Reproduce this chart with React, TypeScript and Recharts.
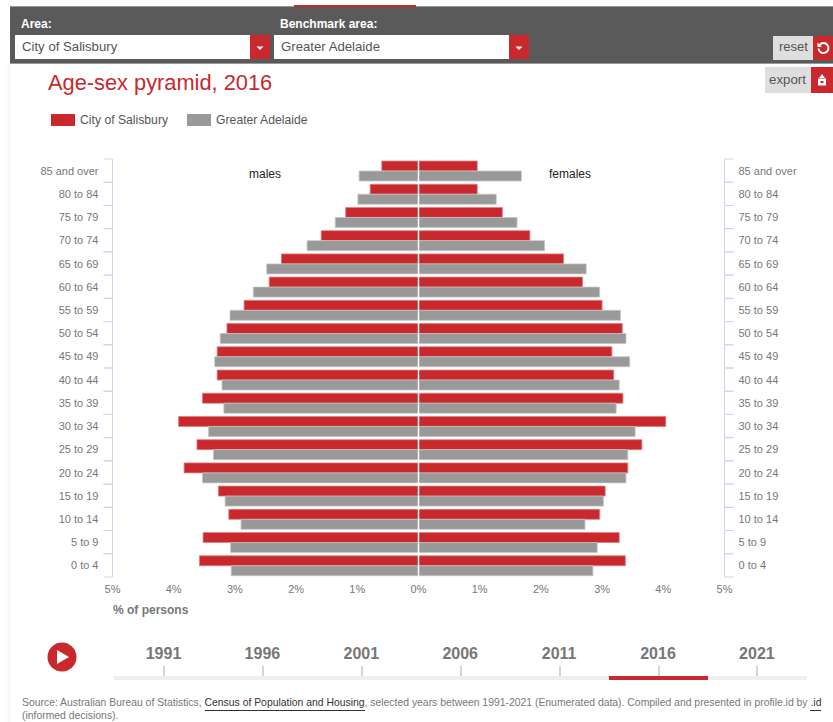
import { BarChart, Bar, XAxis, YAxis, Legend, ReferenceLine } from "recharts";

const ageGroups = [
  "85 and over", "80 to 84", "75 to 79", "70 to 74", "65 to 69", "60 to 64",
  "55 to 59", "50 to 54", "45 to 49", "40 to 44", "35 to 39", "30 to 34",
  "25 to 29", "20 to 24", "15 to 19", "10 to 14", "5 to 9", "0 to 4",
];
const salisburyMales = [0.6, 0.79, 1.19, 1.59, 2.24, 2.44, 2.85, 3.13, 3.29, 3.29, 3.53, 3.92, 3.62, 3.83, 3.27, 3.1, 3.52, 3.58];
const adelaideMales = [0.97, 0.99, 1.36, 1.82, 2.48, 2.7, 3.08, 3.24, 3.33, 3.21, 3.18, 3.43, 3.35, 3.53, 3.16, 2.9, 3.07, 3.06];
const salisburyFemales = [0.96, 0.96, 1.37, 1.82, 2.37, 2.68, 3.0, 3.33, 3.16, 3.19, 3.34, 4.04, 3.65, 3.42, 3.05, 2.96, 3.28, 3.38];
const adelaideFemales = [1.68, 1.27, 1.61, 2.06, 2.74, 2.96, 3.3, 3.39, 3.45, 3.28, 3.23, 3.54, 3.42, 3.39, 3.02, 2.72, 2.92, 2.85];
const xTicks = [-5, -4, -3, -2, -1, 0, 1, 2, 3, 4, 5];
const years = ["1991", "1996", "2001", "2006", "2011", "2016", "2021"];

const data = ageGroups.map((age, i) => ({
  age,
  salisburyMales: -salisburyMales[i],
  adelaideMales: -adelaideMales[i],
  salisburyFemales: salisburyFemales[i],
  adelaideFemales: adelaideFemales[i],
}));

const RED = "#c9282d";
const GREY = "#999999";
const AXIS = "#ccd6eb";
const FONT = "'Liberation Sans', Arial, sans-serif";
const BAND = 418 / 18;

const box = (left: number, top: number, width: number, height: number, background: string) => ({
  position: "absolute" as const, left, top, width, height, background,
});
const label = (left: number, top: number, size: number, color: string, extra = {}) => ({
  position: "absolute" as const, left, top, fontSize: size, color, lineHeight: "16px", whiteSpace: "nowrap" as const, ...extra,
});

const LeftTick = ({ x, y, payload }: any) => (
  <g>
    <line x1={x - 9} x2={x} y1={y - BAND / 2} y2={y - BAND / 2} stroke={AXIS} />
    <line x1={x - 9} x2={x} y1={y + BAND / 2} y2={y + BAND / 2} stroke={AXIS} />
    <text x={x - 14} y={y + 4} textAnchor="end" fontSize={11} fill="#777">{payload.value}</text>
  </g>
);

const RightTick = ({ x, y, payload }: any) => (
  <g>
    <line x1={x} x2={x + 9} y1={y - BAND / 2} y2={y - BAND / 2} stroke={AXIS} />
    <line x1={x} x2={x + 9} y1={y + BAND / 2} y2={y + BAND / 2} stroke={AXIS} />
    <text x={x + 14} y={y + 4} fontSize={11} fill="#777">{payload.value}</text>
  </g>
);

// males and females share a name, so each area shows once
const LegendRow = ({ payload }: any) => {
  const items = (payload || []).filter(
    (p: any, i: number, all: any[]) => all.findIndex((o) => o.value === p.value) === i
  );
  return (
    <div style={{ display: "flex", fontSize: 12.2, color: "#555", lineHeight: "14px" }}>
      {items.map((p: any) => (
        <div key={p.value} style={{ display: "flex", alignItems: "center", marginRight: 19 }}>
          <span style={{ width: 24, height: 12, background: p.color, marginRight: 5 }} />
          {p.value}
        </div>
      ))}
    </div>
  );
};

const Caret = ({ left }: { left: number }) => (
  <div style={box(left, 35, 20, 24, RED)}>
    <svg width={20} height={24} style={{ display: "block" }}>
      <path d="M6.5 11.5h7l-3.5 3.5z" fill="#fff" />
    </svg>
  </div>
);

const App = () => (
  <div style={{ position: "absolute", left: 0, top: 0, width: 833, height: 722, overflow: "hidden", background: "#fff", fontFamily: FONT }}>
    <div style={box(0, 64, 10, 658, "linear-gradient(to right, #fff 60%, #f4f4f4)")} />

    <BarChart
      style={{ position: "absolute", left: 0, top: 0 }}
      width={833}
      height={722}
      data={data}
      layout="vertical"
      stackOffset="sign"
      barSize={10}
      barGap={0}
      margin={{ top: 145, bottom: 115, left: 12.5, right: 8.5 }}
    >
      <XAxis
        type="number"
        domain={[-5, 5]}
        ticks={xTicks}
        height={30}
        axisLine={false}
        tickLine={false}
        tickMargin={2}
        tickFormatter={(v: number) => `${Math.abs(v)}%`}
        tick={{ fontSize: 11, fill: "#777" }}
      />
      <YAxis yAxisId="left" type="category" dataKey="age" width={100} interval={0} stroke={AXIS} tickLine={false} tickSize={0} tickMargin={0} tick={LeftTick} />
      <YAxis yAxisId="right" orientation="right" type="category" dataKey="age" width={100} interval={0} stroke={AXIS} tickLine={false} tickSize={0} tickMargin={0} tick={RightTick} />
      <Legend
        verticalAlign="top"
        align="left"
        content={LegendRow}
        wrapperStyle={{ position: "absolute", left: 51, top: 113, width: "auto", fontFamily: FONT }}
      />
      <Bar yAxisId="left" dataKey="salisburyMales" name="City of Salisbury" stackId="salisbury" fill={RED} stroke="#e07f82" strokeWidth={0.8} isAnimationActive={false} />
      <Bar yAxisId="left" dataKey="salisburyFemales" name="City of Salisbury" stackId="salisbury" fill={RED} stroke="#e07f82" strokeWidth={0.8} isAnimationActive={false} />
      <Bar yAxisId="left" dataKey="adelaideMales" name="Greater Adelaide" stackId="adelaide" fill={GREY} stroke="#c4c4c4" strokeWidth={0.8} isAnimationActive={false} />
      <Bar yAxisId="left" dataKey="adelaideFemales" name="Greater Adelaide" stackId="adelaide" fill={GREY} stroke="#c4c4c4" strokeWidth={0.8} isAnimationActive={false} />
      <ReferenceLine yAxisId="left" x={0} stroke="#fff" strokeWidth={1.5} />
    </BarChart>

    {/* header strip */}
    <div style={{ ...box(10, 6, 823, 58, "#5a5a5a"), borderTop: "1px solid #999", boxSizing: "border-box", borderBottom: "1px solid #999" }} />
    <div style={box(294, 5, 122, 2, RED)} />
    <div style={label(21, 16, 12, "#fff", { fontWeight: 700 })}>Area:</div>
    <div style={label(280, 16, 12, "#fff", { fontWeight: 700 })}>Benchmark area:</div>
    <div style={box(15, 35, 235, 24, "#fff")} />
    <div style={label(22, 39, 13.2, "#555")}>City of Salisbury</div>
    <Caret left={250} />
    <div style={box(274, 35, 235, 24, "#fff")} />
    <div style={label(281, 39, 13.2, "#555")}>Greater Adelaide</div>
    <Caret left={509} />
    <div style={box(773, 36, 40, 24, "#dedede")} />
    <div style={label(779, 39, 13, "#555")}>reset</div>
    <div style={box(813, 36, 20, 24, RED)}>
      <svg width={20} height={24} style={{ display: "block" }}>
        <path d="M6.5 9 A5 5 0 1 1 5.5 12.5" fill="none" stroke="#fff" strokeWidth={2} />
        <path d="M4.5 6.5v4.5h4.5z" fill="#fff" />
      </svg>
    </div>

    <div style={label(48, 70, 21.8, RED, { lineHeight: "26px" })}>Age-sex pyramid, 2016</div>
    <div style={box(765, 67, 46, 26, "#dedede")} />
    <div style={label(769, 72, 13.3, "#555")}>export</div>
    <div style={box(811, 67, 22, 26, RED)}>
      <svg width={22} height={26} style={{ display: "block" }}>
        <path d="M7 11.5h8v7H7z" fill="#fff" />
        <path d="M11 7l3 4h-6z" fill="#fff" />
        <path d="M9.5 14h3v2h-3z" fill={RED} />
      </svg>
    </div>

    <div style={label(249, 166, 12, "#222")}>males</div>
    <div style={label(549, 166, 12, "#222")}>females</div>
    <div style={label(113, 602, 12, "#777", { fontWeight: 700 })}>% of persons</div>

    {/* year slider */}
    <svg width={30} height={30} style={{ position: "absolute", left: 47, top: 642 }}>
      <circle cx={15} cy={15} r={14.5} fill={RED} />
      <path d="M10 8l12 7-12 7z" fill="#fff" />
    </svg>
    <div style={box(114, 676, 693, 4, "#eeeeee")} />
    <div style={box(609, 676, 99, 4, RED)} />
    {years.map((year, i) => (
      <div key={year}>
        <div style={label(163.5 + i * 98.9 - 30, 646, 16, "#777", { fontWeight: 700, width: 60, textAlign: "center" })}>{year}</div>
        <div style={box(Math.round(163 + i * 98.9), 666, 2, 10, "#d4d4d4")} />
      </div>
    ))}

    <div style={{ ...label(22, 696, 10.4, "#777", { lineHeight: "13px", width: 810, whiteSpace: "normal" }) }}>
      Source: Australian Bureau of Statistics,{" "}
      <span style={{ color: "#333", borderBottom: "1px solid #333", paddingBottom: 2 }}>Census of Population and Housing</span>
      , selected years between 1991-2021 (Enumerated data). Compiled and presented in profile.id by{" "}
      <span style={{ color: "#333", borderBottom: "1px solid #333", paddingBottom: 2 }}>.id</span> (informed decisions).
    </div>
  </div>
);

export default App;
